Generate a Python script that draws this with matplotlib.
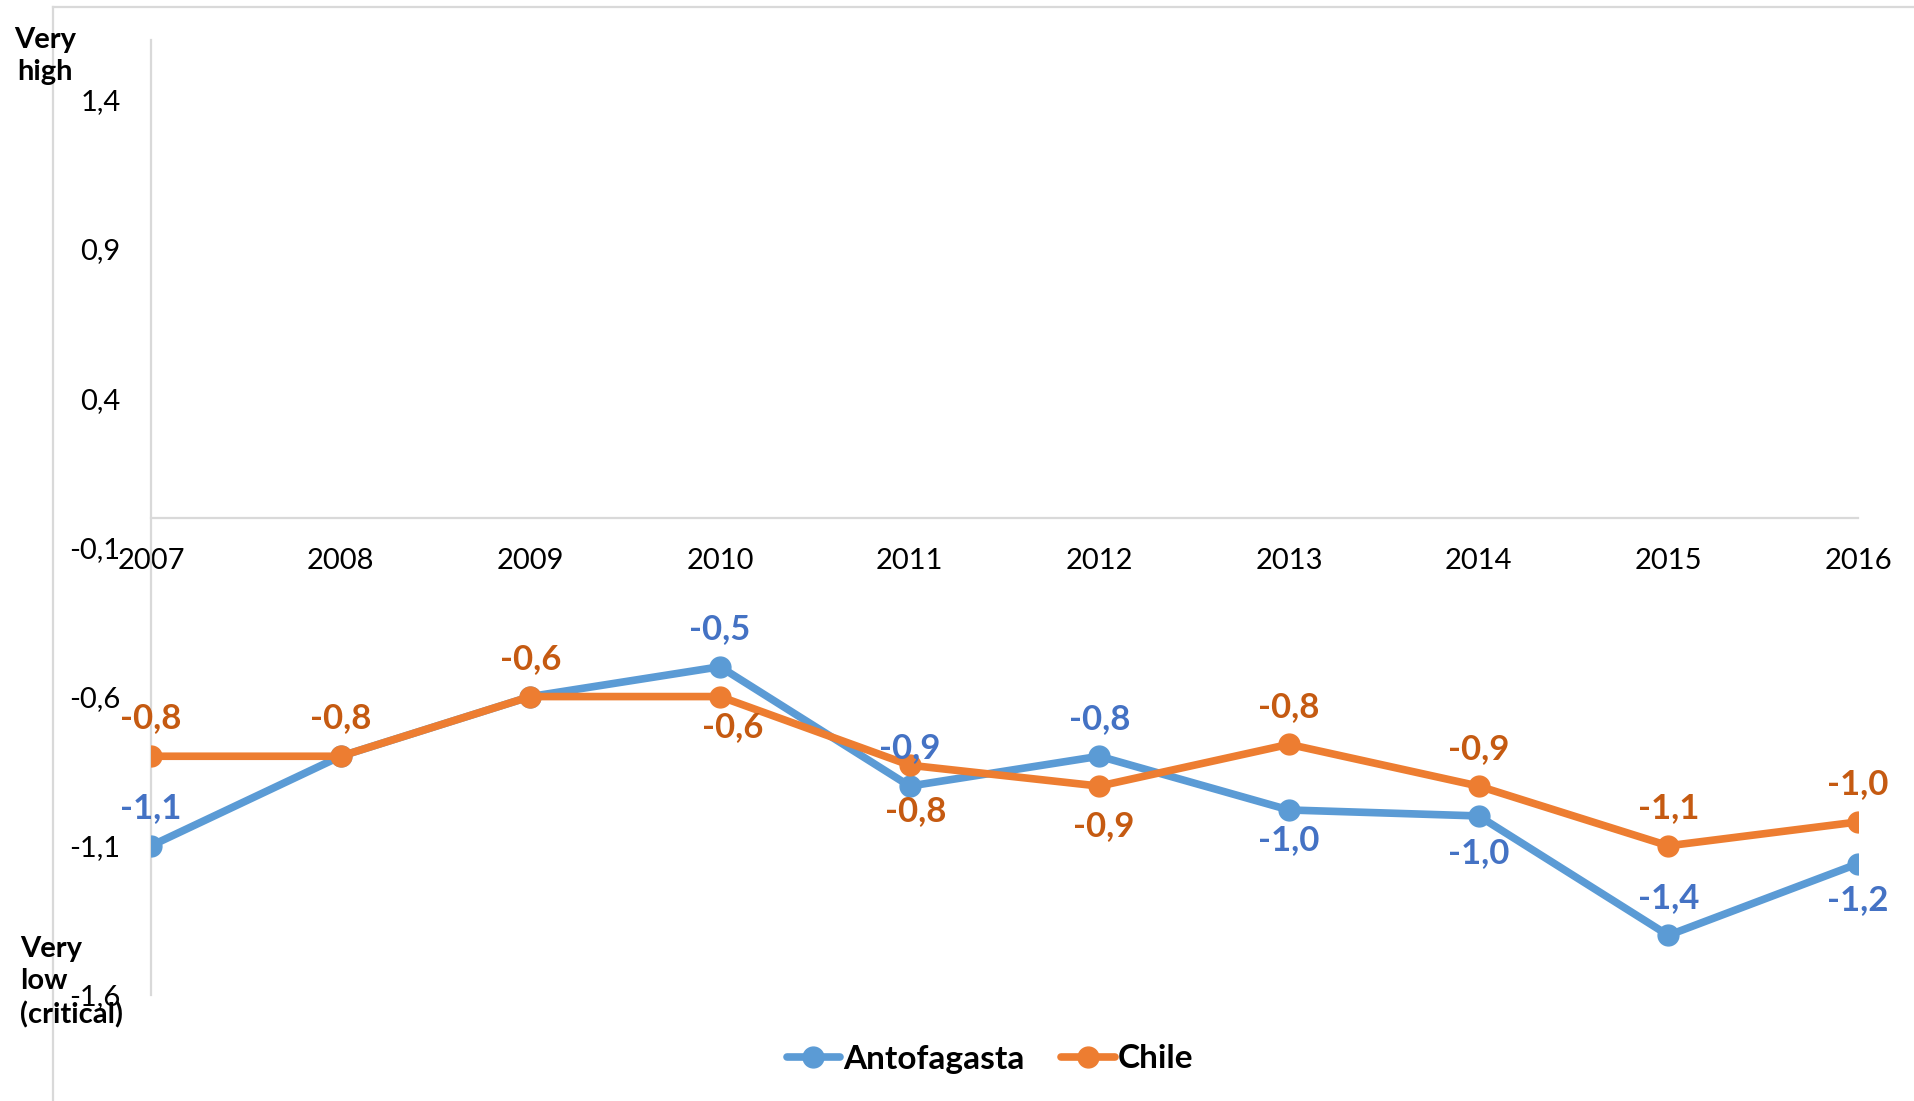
import matplotlib
matplotlib.use("Agg")
import matplotlib.pyplot as plt
from matplotlib.lines import Line2D
from matplotlib.ticker import FuncFormatter, FixedLocator

years = ["2007", "2008", "2009", "2010", "2011", "2012", "2013", "2014", "2015", "2016"]
antofagasta = [-1.10, -0.80, -0.60, -0.50, -0.90, -0.80, -0.98, -1.00, -1.40, -1.16]
chile = [-0.80, -0.80, -0.60, -0.60, -0.83, -0.90, -0.76, -0.90, -1.10, -1.02]
y_ticks = [-1.6, -1.1, -0.6, -0.1, 0.4, 0.9, 1.4]

# where each data label sits relative to its marker (pixels), None = hidden
antofagasta_label_pos = [(0, 38), None, None, (0, 38), (0, 38), (0, 37),
                         (0, -30), (0, -37), (0, 37), (0, -36)]
chile_label_pos = [(0, 38), (0, 38), (0, 38), (13, -30), (6, -46), (4, -40),
                   (0, 37), (0, 37), (0, 38), (0, 38)]

BLUE = "#5B9BD5"
ORANGE = "#ED7D31"
BLUE_TXT = "#4472C4"
ORANGE_TXT = "#C55A11"
GRID = "#D9D9D9"

plt.rcParams["font.family"] = ["Lato", "DejaVu Sans"]

W, H = 1915, 1101
fig = plt.figure(figsize=(W / 100, H / 100), dpi=100)
ax = fig.add_axes([151 / W, 1 - 995 / H, (1858 - 151) / W, (995 - 40) / H])

x = list(range(len(years)))
ax.plot(x, antofagasta, color=BLUE, lw=5.5, marker="o", ms=15, label="Antofagasta",
        solid_capstyle="round", zorder=3)
ax.plot(x, chile, color=ORANGE, lw=5.5, marker="o", ms=15, label="Chile",
        solid_capstyle="round", zorder=4)


def fmt(v):
    return f"{v:.1f}".replace(".", ",")


for vals, pos, col in [(antofagasta, antofagasta_label_pos, BLUE_TXT),
                       (chile, chile_label_pos, ORANGE_TXT)]:
    for i, (v, p) in enumerate(zip(vals, pos)):
        if p is None:
            continue
        ax.annotate(fmt(v), (i, v), xytext=p, textcoords="offset pixels",
                    ha="center", va="center", fontsize=25, fontweight="bold",
                    color=col, zorder=6)

ax.set_xlim(0, len(years) - 1)
ax.set_ylim(-1.6, 1.6)
ax.yaxis.set_major_locator(FixedLocator(y_ticks))
ax.yaxis.set_major_formatter(FuncFormatter(lambda v, _: fmt(v)))
ax.set_xticks(x)
ax.set_xticklabels(years)
ax.tick_params(axis="both", length=0, labelsize=21, colors="black")
ax.tick_params(axis="y", pad=22)
ax.tick_params(axis="x", pad=22)

for side in ["top", "right"]:
    ax.spines[side].set_visible(False)
ax.spines["left"].set_color(GRID)
ax.spines["left"].set_linewidth(1.6)
ax.spines["bottom"].set_color(GRID)
ax.spines["bottom"].set_linewidth(1.6)
ax.spines["bottom"].set_position(("data", 0))

# chart frame, mostly cut by the image edges
fig.add_artist(Line2D([53 / W, 53 / W], [0, 1 - 7 / H], color=GRID, lw=1.6))
fig.add_artist(Line2D([53 / W, 1], [1 - 7 / H, 1 - 7 / H], color=GRID, lw=1.6))

fig.text(45 / W, 1 - 56 / H, "Very\nhigh", ha="center", va="center",
         fontsize=21, fontweight="bold", linespacing=1.25)
fig.text(20 / W, 1 - 982 / H, "Very\nlow\n(critical)", ha="left", va="center",
         fontsize=21, fontweight="bold", linespacing=1.3)

fig.legend(loc="center", bbox_to_anchor=(990 / W, 1 - 1059 / H), ncol=2,
           frameon=False, prop={"weight": "bold", "size": 24},
           handlelength=1.6, handletextpad=0.1, columnspacing=1.1,
           borderaxespad=0)

fig.savefig("out.png", dpi=100, facecolor="white")
